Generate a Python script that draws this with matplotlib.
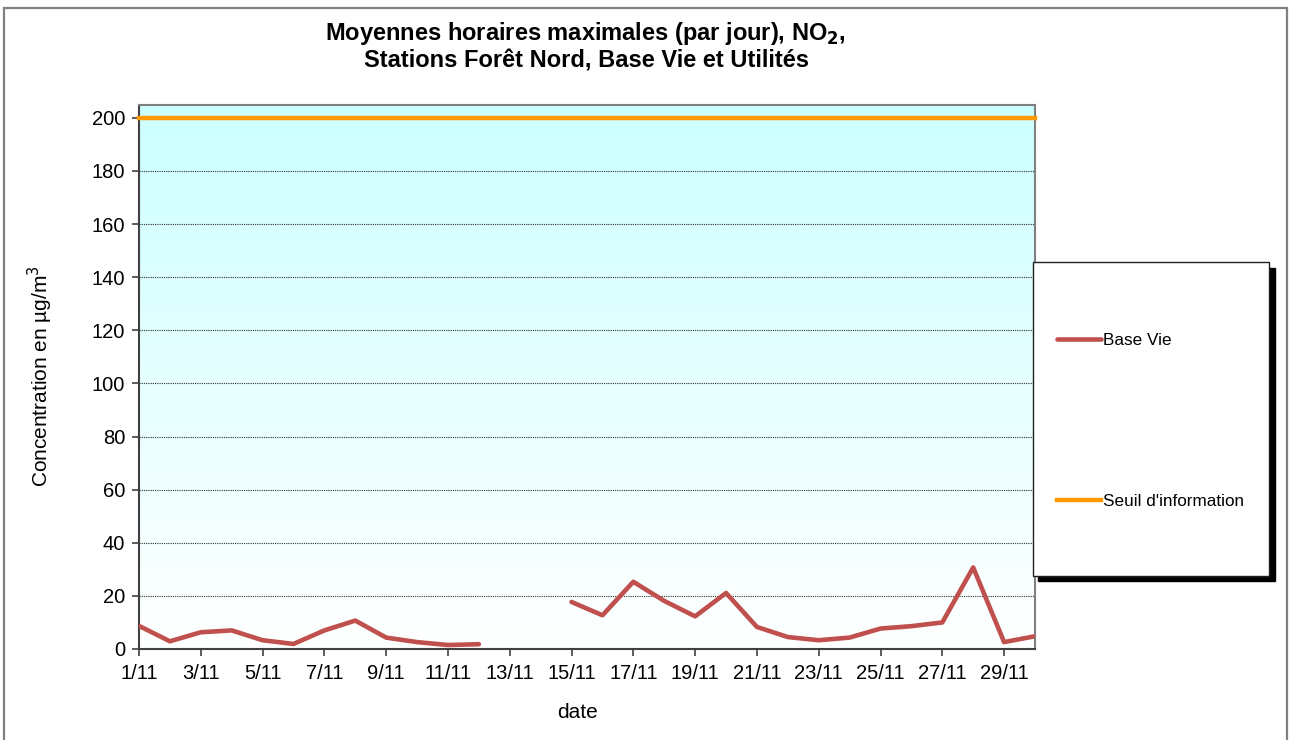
import numpy as np
import matplotlib.pyplot as plt
from matplotlib.patches import Rectangle
from matplotlib.ticker import MultipleLocator

plt.rcParams['font.family'] = ['Liberation Sans', 'DejaVu Sans']

# jours de novembre
days = list(range(1, 31))
base_vie = [8.7, 2.9, 6.3, 7.0, 3.3, 1.9, 7.0, 10.7, 4.3, 2.6,
            1.5, 1.8, np.nan, np.nan, 17.7, 12.7, 25.3, 18.1, 12.3, 21.1,
            8.3, 4.5, 3.3, 4.3, 7.7, 8.6, 10.0, 30.7, 2.6, 4.8]
seuil = [200] * 30
tick_days = list(range(1, 30, 2))
tick_labels = [f"{d}/11" for d in tick_days]

W, H = 1290, 740
fig = plt.figure(figsize=(W / 100, H / 100), dpi=100)
ax = fig.add_axes([139 / W, 1 - 649 / H, (1035 - 139) / W, (649 - 104.5) / H])

# fond dégradé cyan -> blanc
grad = np.linspace(0, 1, 256).reshape(-1, 1)
top = np.array([0.80, 1.0, 1.0])
bot = np.array([1.0, 1.0, 1.0])
img = bot + (top - bot) * grad[::-1][:, :, None] * np.ones((1, 1, 3))
ax.imshow(img, extent=[0, 1, 0, 1], transform=ax.transAxes, aspect='auto', zorder=0)

ax.plot(days, base_vie, color='#C0504D', lw=3.3, label='Base Vie', zorder=3,
        solid_capstyle='round', solid_joinstyle='round')
ax.plot(days, seuil, color='#FF9900', lw=3.2, label="Seuil d'information", zorder=3,
        clip_on=False)

ax.set_xlim(1, 30)
ax.set_ylim(0, 205)
ax.yaxis.set_major_locator(MultipleLocator(20))
ax.set_xticks(tick_days)
ax.set_xticklabels(tick_labels)
ax.tick_params(axis='both', labelsize=14.5, length=5, width=1.2, color='#404040', direction='out')
ax.tick_params(axis='x', pad=6)
ax.tick_params(axis='y', pad=5)
ax.grid(axis='y', color='#303030', linestyle=(0, (1, 1)), linewidth=0.8, zorder=1)

for s in ['left', 'bottom']:
    ax.spines[s].set_color('#404040')
    ax.spines[s].set_linewidth(1.5)
for s in ['top', 'right']:
    ax.spines[s].set_color('#808080')
    ax.spines[s].set_linewidth(1.5)

ax.set_xlabel('date', fontsize=15)
ax.xaxis.set_label_coords((578 - 139) / 896, (649 - 713) / 544.5)
ax.xaxis.label.set_va('center')
ax.set_ylabel('Concentration en µg/m$^3$', fontsize=15)
ax.yaxis.set_label_coords((40 - 139) / 896, (649 - 376) / 544.5)
ax.yaxis.label.set_va('center')

fig.text(586 / W, 1 - 46 / H,
         'Moyennes horaires maximales (par jour), NO$_\\mathbf{2}$,\nStations Forêt Nord, Base Vie et Utilités',
         ha='center', va='center', fontsize=17, fontweight='bold', linespacing=1.15)

# cadre de légende avec ombre
fig.patches.append(Rectangle((1038 / W, 1 - 581 / H), (1275 - 1038) / W, (581 - 268) / H,
                             transform=fig.transFigure, facecolor='black', edgecolor='black', zorder=5))
fig.patches.append(Rectangle((1033 / W, 1 - 576 / H), (1269 - 1033) / W, (576 - 262) / H,
                             transform=fig.transFigure, facecolor='white', edgecolor='#202020',
                             lw=1, zorder=6))
leg = fig.legend(loc='upper left', bbox_to_anchor=(1057 / W, 1 - 333 / H), frameon=False,
                 fontsize=12.3, handlelength=2.55, handletextpad=0.15, labelspacing=8.55,
                 borderpad=0, borderaxespad=0)
leg.set_zorder(7)

# bordure de la figure
fig.patches.append(Rectangle((3.5 / W, -2 / H), (1287 - 3.5) / W, (H - 5.5) / H, transform=fig.transFigure,
                             facecolor='none', edgecolor='#808080', lw=1.6, zorder=10))

fig.savefig('out.png', dpi=100)
